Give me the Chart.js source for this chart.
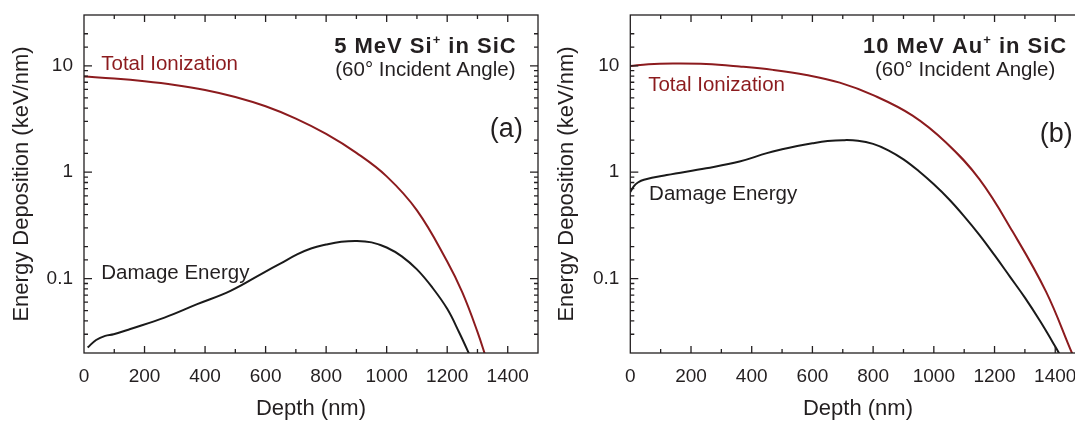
<!DOCTYPE html>
<html>
<head>
<meta charset="utf-8">
<script src="https://cdn.jsdelivr.net/npm/chart.js@4.4.1/dist/chart.umd.min.js"></script>
<style>
  html, body { margin: 0; padding: 0; background: #fff; overflow: hidden; width: 1075px; height: 422px; }
  canvas { position: absolute; top: 0; }
  #chartA { left: 0; }
  #chartB { left: 545px; }
</style>
</head>
<body>
<canvas id="chartA" width="545" height="422"></canvas>
<canvas id="chartB" width="550" height="422"></canvas>
<script>
// --- datos ---
// (a) 5 MeV Si+ en SiC
const depthIonA = [0, 100, 200, 300, 400, 500, 600, 700, 800, 900, 1000, 1100, 1200, 1250, 1300, 1330];
const ionA      = [7.91, 7.59, 7.16, 6.61, 5.92, 5.09, 4.16, 3.19, 2.29, 1.52, 0.914, 0.438, 0.145, 0.0741, 0.0316, 0.0174];
const depthDmgA = [12, 40, 70, 98, 153, 266, 374, 484, 594, 650, 704, 750, 800, 850, 902, 950, 1000, 1050, 1100, 1150, 1200, 1240, 1271, 1290];
const dmgA      = [0.0225, 0.0265, 0.029, 0.030, 0.0336, 0.043, 0.0575, 0.0767, 0.114, 0.139, 0.169, 0.192, 0.209, 0.222, 0.226, 0.219, 0.196, 0.162, 0.122, 0.083, 0.052, 0.031, 0.02, 0.015];

// (b) 10 MeV Au+ en SiC
const depthIonB = [0, 60, 140, 250, 360, 470, 580, 690, 800, 930, 1040, 1150, 1260, 1370, 1455, 1480];
const ionB      = [9.95, 10.35, 10.5, 10.4, 9.85, 9.15, 8.2, 6.95, 5.3, 3.4, 1.9, 0.86, 0.275, 0.075, 0.02, 0.014];
const depthDmgB = [0, 12, 25, 45, 120, 250, 360, 450, 500, 550, 600, 650, 700, 750, 800, 850, 900, 950, 1000, 1050, 1100, 1150, 1200, 1250, 1300, 1350, 1400, 1430];
const dmgB      = [0.65, 0.74, 0.8, 0.85, 0.94, 1.09, 1.26, 1.51, 1.64, 1.76, 1.87, 1.96, 2.0, 1.977, 1.845, 1.607, 1.321, 1.026, 0.769, 0.557, 0.385, 0.258, 0.166, 0.105, 0.0662, 0.0399, 0.023, 0.0162];

const xTickLabels = [0, 200, 400, 600, 800, 1000, 1200, 1400];
const yTickLabels = [0.1, 1, 10];

const INK = '#231f20';
const RED = '#8c1b1e';
const FONT = "'Liberation Sans', Arial, Helvetica, sans-serif";

// textos dentro del gráfico (posición en coordenadas de datos)
const notesA = [
  { text: '5 MeV Si', sup: '+', rest: ' in SiC', x: 1128, y: 13.1, size: 22, bold: true, align: 'center' },
  { text: '(60° Incident Angle)', x: 1128, y: 7.97, size: 20.5, align: 'center' },
  { text: '(a)', x: 1450, y: 2.16, size: 27, align: 'right' },
  { text: 'Total Ionization', x: 57, y: 9.04, size: 20.5, color: RED, align: 'left' },
  { text: 'Damage Energy', x: 57, y: 0.1, size: 20.5, align: 'left' }
];
const notesB = [
  { text: '10 MeV Au', sup: '+', rest: ' in SiC', x: 1103, y: 13.1, size: 22, bold: true, align: 'center' },
  { text: '(60° Incident Angle)', x: 1103, y: 8.02, size: 20.5, align: 'center' },
  { text: '(b)', x: 1458, y: 1.93, size: 27, align: 'right' },
  { text: 'Total Ionization', x: 59, y: 5.84, size: 20.5, color: RED, align: 'left' },
  { text: 'Damage Energy', x: 62, y: 0.55, size: 20.5, align: 'left' }
];

const toPts = (xs, ys) => ys.map((v, i) => ({ x: xs[i], y: v }));

// marco + ticks hacia adentro + textos
const framePlugin = {
  id: 'frame',
  afterDraw(chart) {
    const { ctx, chartArea: a, scales: { x, y } } = chart;
    ctx.save();
    ctx.strokeStyle = INK;
    ctx.lineWidth = 1.3;
    ctx.strokeRect(a.left, a.top, a.right - a.left, a.bottom - a.top);
    ctx.beginPath();
    x.ticks.forEach(t => {
      const px = x.getPixelForValue(t.value);
      if (px <= a.left + 1 || px >= a.right - 1) return;
      const len = t.value % 200 === 0 ? 7 : 4;
      ctx.moveTo(px, a.bottom); ctx.lineTo(px, a.bottom - len);
      ctx.moveTo(px, a.top); ctx.lineTo(px, a.top + len);
    });
    y.ticks.forEach(t => {
      const py = y.getPixelForValue(t.value);
      if (py <= a.top + 1 || py >= a.bottom - 1) return;
      const lg = Math.log10(t.value);
      const len = Math.abs(lg - Math.round(lg)) < 1e-6 ? 8 : 4;
      ctx.moveTo(a.left, py); ctx.lineTo(a.left + len, py);
      ctx.moveTo(a.right, py); ctx.lineTo(a.right - len, py);
    });
    ctx.stroke();

    const notes = chart.options.plugins.frame.notes;
    ctx.textBaseline = 'alphabetic';
    notes.forEach(n => {
      const px = x.getPixelForValue(n.x);
      const py = y.getPixelForValue(n.y);
      const f = (n.bold ? 'bold ' : '') + n.size + 'px ' + FONT;
      ctx.fillStyle = n.color || INK;
      if (n.sup) {
        const fs = (n.bold ? 'bold ' : '') + Math.round(n.size * 0.6) + 'px ' + FONT;
        ctx.letterSpacing = '1px';
        ctx.font = f;
        const w1 = ctx.measureText(n.text).width;
        const w3 = ctx.measureText(n.rest).width;
        ctx.font = fs;
        const w2 = ctx.measureText(n.sup).width;
        let sx = px - (w1 + w2 + w3) / 2;
        ctx.textAlign = 'left';
        ctx.font = f;
        ctx.fillText(n.text, sx, py);
        ctx.font = fs;
        ctx.fillText(n.sup, sx + w1, py - n.size * 0.42);
        ctx.font = f;
        ctx.fillText(n.rest, sx + w1 + w2, py);
        ctx.letterSpacing = '0px';
      } else {
        ctx.font = f;
        ctx.textAlign = n.align;
        ctx.fillText(n.text, px, py);
      }
    });
    ctx.restore();
  }
};

function makeChart(id, ionX, ionY, dmgX, dmgY, notes, padRight, yWidth) {
  const ctx = document.getElementById(id).getContext('2d');
  return new Chart(ctx, {
    type: 'line',
    data: {
      datasets: [
        { label: 'Total Ionization', data: toPts(ionX, ionY), borderColor: RED, borderWidth: 2,
          pointRadius: 0, tension: 0.4, fill: false },
        { label: 'Damage Energy', data: toPts(dmgX, dmgY), borderColor: '#1a1a1a', borderWidth: 2,
          pointRadius: 0, tension: 0.4, fill: false }
      ]
    },
    options: {
      responsive: false,
      animation: false,
      devicePixelRatio: 1,
      layout: { padding: { left: 0, top: 15, right: padRight, bottom: 0 } },
      plugins: {
        legend: { display: false },
        tooltip: { enabled: false },
        frame: { notes: notes }
      },
      scales: {
        x: {
          type: 'linear', min: 0, max: 1500,
          grid: { display: false, drawTicks: false },
          border: { display: false },
          ticks: {
            stepSize: 100, autoSkip: false, maxRotation: 0, padding: 12,
            color: INK, font: { family: FONT, size: 19 },
            callback: v => xTickLabels.includes(v) ? String(v) : ''
          },
          title: { display: true, text: 'Depth (nm)', color: INK, font: { family: FONT, size: 22 },
                   padding: { top: 0, bottom: 0 } },
          afterFit: s => { s.height = 69; s.paddingLeft = 0; s.paddingRight = 0; }
        },
        y: {
          type: 'logarithmic', min: 0.02, max: 30,
          grid: { display: false, drawTicks: false },
          border: { display: false },
          ticks: {
            autoSkip: false, padding: 11,
            color: INK, font: { family: FONT, size: 19 },
            callback: v => {
              const l = yTickLabels.find(t => Math.abs(v / t - 1) < 1e-6);
              return l !== undefined ? String(l) : '';
            }
          },
          title: { display: true, text: 'Energy Deposition (keV/nm)', color: INK,
                   font: { family: FONT, size: 22 }, padding: { top: 9, bottom: 0 } },
          afterFit: s => { s.width = yWidth; s.paddingTop = 0; s.paddingBottom = 0; }
        }
      }
    },
    plugins: [framePlugin]
  });
}

makeChart('chartA', depthIonA, ionA, depthDmgA, dmgA, notesA, 7, 84);
makeChart('chartB', depthIonB, ionB, depthDmgB, dmgB, notesB, 9.4, 85.3);
</script>
</body>
</html>
